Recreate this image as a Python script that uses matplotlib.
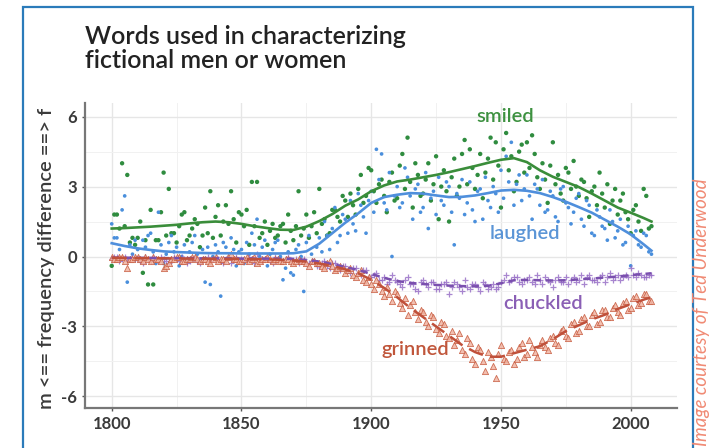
import numpy as np
import matplotlib
matplotlib.use("Agg")
from matplotlib import pyplot as plt
from matplotlib.patches import Rectangle
from matplotlib.ticker import MultipleLocator

# --- данные: по одному значению на год, 1800..2008 (строка = десятилетие) ---
years = np.arange(1800, 2009)

smiled = [
    -0.4, 1.8, 1.8, 1.2, 4.0, 1.3, 3.5, 0.6, 0.8, 0.5,
    0.8, 1.5, -0.7, 0.7, -1.2, 2.0, -1.2, 0.7, 0.7, 1.9,
    3.6, 0.9, 2.9, 1.0, 1.0, 0.6, 1.3, 1.8, 1.9, 0.7,
    0.9, 1.2, 1.6, 1.4, 0.4, 0.9, 2.1, 1.0, 2.8, 0.8,
    1.7, 2.2, 0.9, 1.5, 2.2, 1.4, 2.8, 1.6, 0.6, 1.9,
    1.8, 1.3, 2.0, 0.5, 3.2, 1.3, 3.2, 0.8, 1.0, 1.5,
    0.5, 1.1, 1.4, 0.8, 0.9, 1.3, 1.4, 0.6, 1.8, 1.1,
    0.7, 1.3, 2.8, 0.9, 1.2, 1.8, 0.8, 1.3, 1.9, 1.0,
    2.9, 1.4, 1.6, 0.9, 1.0, 2.0, 2.0, 1.7, 1.5, 2.6,
    2.4, 1.7, 2.7, 2.2, 1.8, 2.9, 3.5, 2.3, 2.6, 3.8,
    3.7, 2.8, 2.3, 3.1, 3.3, 2.6, 1.9, 3.2, 3.6, 2.4,
    2.5, 3.9, 4.4, 2.9, 5.1, 3.2, 2.1, 4.0, 3.5, 2.6,
    2.7, 3.3, 4.0, 2.4, 3.1, 4.3, 1.6, 3.0, 3.7, 2.8,
    1.5, 3.4, 4.2, 2.6, 3.0, 4.4, 5.0, 3.1, 4.6, 3.8,
    2.9, 3.5, 4.4, 2.5, 3.6, 4.2, 5.1, 3.3, 4.9, 3.9,
    2.1, 4.6, 5.3, 3.7, 4.3, 2.8, 3.2, 4.5, 4.8, 3.6,
    4.9, 3.8, 5.2, 4.4, 3.4, 2.9, 4.0, 3.3, 2.3, 3.9,
    4.9, 3.1, 3.5, 2.7, 2.4, 3.8, 3.6, 2.9, 4.1, 3.0,
    2.6, 3.3, 3.2, 2.5, 1.7, 2.8, 3.0, 2.2, 3.6, 2.7,
    2.1, 3.1, 1.4, 2.4, 2.9, 1.8, 2.4, 2.7, 1.9, 1.6,
    1.0, 2.0, 2.2, 1.5, 1.1, 2.9, 2.6, 1.2, 1.3,
]

laughed = [
    1.4, 0.8, 0.8, 0.3, 2.0, 2.6, -1.1, 0.5, 0.1, 0.7,
    0.3, -0.2, 0.7, 0.4, 0.9, 1.0, 0.2, -0.3, 1.9, 0.5,
    -0.3, 0.1, 0.6, 0.9, 0.2, 0.4, -0.4, 0.0, 0.5, -0.2,
    0.2, 0.6, 0.9, 0.1, -0.2, 0.3, -1.1, 0.4, -1.2, 0.0,
    0.5, 0.2, -1.7, 0.6, 0.4, -0.1, 0.8, 0.3, -0.4, 0.2,
    0.3, -0.3, 0.6, 0.1, 1.0, 0.5, 1.6, 0.0, 0.4, 0.7,
    -0.4, 0.1, 0.3, 0.6, 0.7, 0.0, -1.0, -0.5, 0.2, -0.7,
    -0.8, 0.3, 0.5, 0.0, -1.5, 0.6, 0.9, 0.1, -0.2, 0.4,
    0.8, 0.2, 1.5, 0.9, 0.3, 1.2, 2.1, 0.6, 0.9, 1.8,
    1.6, 1.0, 2.4, 1.4, 1.1, 2.7, 2.2, 1.7, 1.0, 2.4,
    2.8, 1.9, 4.6, 3.3, 4.4, 2.3, 2.0, 3.6, 0.0, 2.6,
    3.0, 2.1, 2.3, 3.8, 3.4, 2.6, 1.6, 2.9, 3.1, 1.9,
    2.1, 3.6, 1.2, 2.5, 2.8, 1.8, 3.4, 2.4, 2.2, 3.2,
    3.0, 1.9, 0.5, 2.7, 2.5, 3.3, 1.8, 2.3, 3.2, 2.0,
    1.5, 2.8, 2.9, 1.6, 3.4, 2.4, 2.1, 3.0, 2.7, 1.9,
    3.7, 2.5, 4.3, 3.2, 4.9, 2.2, 3.1, 3.5, 2.4, 2.9,
    3.5, 2.6, 1.6, 3.1, 2.9, 2.2, 3.3, 1.9, 2.0, 2.8,
    2.6, 1.7, 1.5, 2.9, 3.0, 2.3, 2.1, 1.4, 1.9, 2.5,
    2.7, 1.6, 1.3, 2.4, 2.2, 1.0, 0.9, 2.0, 1.7, 1.3,
    1.2, 0.7, 2.0, 1.5, 0.8, 1.1, 1.6, 0.5, 0.6, 1.3,
    -0.4, 0.9, 1.1, 0.5, 0.4, 1.0, 0.9, 0.2, 0.1,
]

chuckled = [
    -0.1, 0.0, 0.0, -0.2, -0.1, 0.0, -0.2, -0.1, 0.0, -0.1,
    -0.1, -0.2, -0.3, 0.0, -0.1, -0.2, 0.0, -0.1, -0.2, 0.0,
    -0.1, -0.2, -0.3, -0.1, 0.0, -0.1, -0.2, 0.0, -0.1, -0.3,
    -0.2, -0.1, 0.0, -0.2, -0.3, -0.1, -0.1, 0.0, -0.2, -0.1,
    0.0, -0.1, -0.2, -0.3, -0.1, 0.0, -0.3, -0.1, 0.0, -0.2,
    -0.1, -0.2, -0.2, 0.0, -0.1, -0.3, 0.1, -0.1, -0.2, -0.1,
    -0.1, -0.2, -0.3, 0.0, -0.1, -0.2, -0.2, -0.1, 0.0, -0.2,
    -0.2, -0.1, -0.3, -0.2, -0.1, -0.3, -0.3, -0.2, -0.2, -0.4,
    -0.4, -0.3, -0.2, -0.4, -0.5, -0.3, -0.3, -0.5, -0.6, -0.4,
    -0.4, -0.6, -0.7, -0.5, -0.5, -0.7, -0.8, -0.6, -0.6, -0.9,
    -0.9, -0.8, -0.7, -1.0, -1.0, -0.9, -1.2, -1.1, -0.8, -1.0,
    -1.1, -1.2, -1.3, -1.0, -0.9, -1.2, -1.2, -1.4, -1.5, -1.1,
    -1.0, -1.2, -1.3, -1.1, -1.1, -1.4, -1.4, -1.2, -1.2, -1.1,
    -1.6, -1.3, -1.1, -1.2, -1.3, -1.5, -1.0, -1.3, -1.4, -1.2,
    -1.2, -1.3, -1.5, -1.1, -1.2, -1.4, -1.3, -1.2, -1.4, -1.3,
    -1.1, -1.0, -0.8, -1.1, -1.0, -0.9, -0.9, -1.1, -1.2, -1.0,
    -1.0, -0.9, -1.1, -1.2, -0.8, -1.0, -1.2, -0.9, -1.0, -1.1,
    -1.3, -1.0, -0.9, -1.1, -1.1, -0.9, -1.2, -1.0, -0.9, -1.1,
    -1.0, -0.8, -1.2, -0.9, -0.8, -1.0, -1.0, -1.1, -0.9, -0.8,
    -1.1, -0.9, -0.7, -1.0, -0.9, -0.8, -1.0, -0.9, -0.8, -0.9,
    -0.5, -0.8, -0.9, -0.7, -0.8, -0.9, -0.9, -0.8, -0.8,
]

grinned = [
    0.0, -0.1, -0.1, 0.0, 0.0, -0.2, -0.5, -0.1, -0.1, 0.0,
    0.0, -0.1, -0.2, 0.0, -0.1, -0.2, 0.0, -0.1, -0.1, -0.2,
    -0.5, -0.4, -0.3, -0.1, -0.1, 0.0, 0.0, -0.2, -0.2, -0.1,
    -0.1, 0.0, 0.0, -0.1, -0.2, -0.1, -0.1, -0.2, -0.3, -0.1,
    0.0, -0.2, -0.1, -0.1, -0.2, 0.0, 0.1, -0.1, -0.1, -0.2,
    -0.2, -0.1, 0.0, -0.2, -0.1, 0.0, -0.3, -0.2, -0.1, -0.1,
    0.0, -0.1, -0.2, -0.1, -0.1, -0.2, -0.2, -0.1, -0.1, -0.2,
    -0.3, -0.2, -0.1, -0.2, -0.2, -0.3, -0.4, -0.2, -0.2, -0.3,
    -0.3, -0.4, -0.5, -0.3, -0.2, -0.4, -0.6, -0.5, -0.4, -0.5,
    -0.7, -0.6, -0.5, -0.8, -0.9, -0.7, -0.6, -1.0, -1.1, -0.9,
    -1.2, -1.4, -1.0, -1.2, -1.5, -1.7, -1.3, -1.6, -1.9, -1.5,
    -1.6, -2.0, -2.2, -1.8, -2.5, -2.1, -1.9, -2.4, -2.7, -2.3,
    -2.4, -2.8, -3.0, -2.5, -2.6, -3.1, -3.3, -2.8, -2.9, -3.4,
    -3.5, -3.2, -3.8, -3.6, -3.3, -4.0, -4.2, -3.5, -3.7, -4.4,
    -4.6, -3.9, -4.0, -4.5, -4.9, -4.1, -4.3, -4.7, -5.2, -4.2,
    -3.8, -4.4, -4.5, -4.1, -4.0, -4.6, -4.4, -3.9, -3.7, -4.3,
    -4.2, -3.6, -3.9, -4.1, -4.3, -3.8, -3.6, -3.9, -4.0, -3.5,
    -3.4, -3.7, -3.8, -3.2, -3.1, -3.4, -3.5, -2.9, -2.8, -3.3,
    -3.2, -2.7, -2.6, -3.0, -3.0, -2.5, -2.4, -2.9, -2.8, -2.3,
    -2.3, -2.6, -2.6, -2.2, -2.1, -2.4, -2.5, -2.0, -1.9, -2.3,
    -2.2, -1.8, -1.7, -2.1, -2.0, -1.6, -1.6, -1.9, -1.9,
]

# сглаженные линии (шаг 5 лет)
trend_years = [1800, 1805, 1810, 1815, 1820, 1825, 1830, 1835, 1840, 1845,
               1850, 1855, 1860, 1865, 1870, 1875, 1880, 1885, 1890, 1895,
               1900, 1905, 1910, 1915, 1920, 1925, 1930, 1935, 1940, 1945,
               1950, 1955, 1960, 1965, 1970, 1975, 1980, 1985, 1990, 1995,
               2000, 2005, 2008]

smiled_trend = [1.20, 1.22, 1.25, 1.28, 1.32, 1.36, 1.42, 1.47, 1.50, 1.47,
                1.40, 1.30, 1.22, 1.15, 1.14, 1.28, 1.52, 1.82, 2.18, 2.45,
                2.80, 3.05, 3.22, 3.30, 3.40, 3.50, 3.62, 3.75, 3.88, 4.02,
                4.15, 4.22, 4.05, 3.70, 3.42, 3.20, 2.98, 2.70, 2.40, 2.10,
                1.88, 1.65, 1.50]

laughed_trend = [0.57, 0.45, 0.35, 0.28, 0.22, 0.19, 0.17, 0.15, 0.14, 0.14,
                 0.13, 0.13, 0.13, 0.13, 0.14, 0.22, 0.55, 1.00, 1.45, 1.85,
                 2.30, 2.55, 2.65, 2.72, 2.70, 2.62, 2.55, 2.56, 2.62, 2.72,
                 2.83, 2.86, 2.82, 2.72, 2.55, 2.35, 2.12, 1.88, 1.58, 1.28,
                 0.95, 0.52, 0.25]

chuckled_trend = [-0.05, -0.05, -0.06, -0.06, -0.07, -0.07, -0.07, -0.08, -0.08, -0.08,
                  -0.09, -0.09, -0.09, -0.10, -0.10, -0.15, -0.22, -0.32, -0.45, -0.58,
                  -0.75, -0.92, -1.05, -1.13, -1.18, -1.22, -1.25, -1.27, -1.28, -1.26,
                  -1.15, -1.02, -1.00, -1.02, -1.03, -1.02, -0.98, -0.95, -0.90, -0.86,
                  -0.80, -0.75, -0.72]

grinned_trend = [-0.05, -0.06, -0.07, -0.07, -0.08, -0.08, -0.09, -0.09, -0.10, -0.10,
                 -0.11, -0.11, -0.12, -0.14, -0.17, -0.22, -0.30, -0.40, -0.55, -0.72,
                 -1.00, -1.35, -1.75, -2.20, -2.60, -3.00, -3.40, -3.80, -4.10, -4.30,
                 -4.30, -4.15, -4.00, -3.85, -3.55, -3.20, -2.95, -2.70, -2.50, -2.25,
                 -2.05, -1.85, -1.75]

x_ticks = [1800, 1850, 1900, 1950, 2000]
y_ticks = [-6, -3, 0, 3, 6]

# --- стиль ---
plt.rcParams['font.family'] = ['Lato', 'DejaVu Sans']

fig = plt.figure(figsize=(7.1, 4.48), dpi=100, facecolor='white')
ax = fig.add_axes([0.1197, 0.0893, 0.8333, 0.6815])
ax.set_facecolor('white')

# сетка
ax.xaxis.set_minor_locator(MultipleLocator(25))
ax.yaxis.set_minor_locator(MultipleLocator(1.5))
ax.grid(True, which='major', color='#e6e6e6', linewidth=1.0)
ax.grid(True, which='minor', color='#f1f1f1', linewidth=0.7)
ax.set_axisbelow(True)

# точки
ax.scatter(years, smiled, s=10, color='#2f8c3f', edgecolors='none', zorder=2)
ax.scatter(years, laughed, s=7, color='#4a8fdc', edgecolors='none', zorder=2)
ax.scatter(years, chuckled, s=22, marker='+', color='#9368c4', linewidths=0.9,
           alpha=0.8, zorder=3)
ax.scatter(years, grinned, s=20, marker='^', facecolor='#f0b4a2', edgecolors='#c75a3e',
           linewidths=0.6, alpha=0.85, zorder=3)

# сглаженные линии
ax.plot(trend_years, smiled_trend, color='#3a8d3a', linewidth=1.9, zorder=4)
ax.plot(trend_years, laughed_trend, color='#4f8fdc', linewidth=1.9, zorder=4)
ax.plot(trend_years, chuckled_trend, color='#7a4fae', linewidth=1.8,
        dashes=(3, 2), zorder=4)
ax.plot(trend_years, grinned_trend, color='#c0503a', linewidth=1.8,
        dashes=(6, 3), zorder=4)

# подписи серий
lbl = dict(fontsize=14.5, fontweight='semibold', ha='center', va='center', zorder=5)
ax.text(1951.6, 6.0, 'smiled', color='#3d9140', **lbl)
ax.text(1959.3, 1.0, 'laughed', color='#5b95d6', **lbl)
ax.text(1966.2, -2.0, 'chuckled', color='#8a5fb5', **lbl)
ax.text(1916.9, -4.0, 'grinned', color='#c0563b', **lbl)

# оси
ax.set_xlim(1789.7, 2017.7)
ax.set_ylim(-6.5, 6.6)
ax.set_xticks(x_ticks)
ax.set_yticks(y_ticks)
ax.set_xticklabels([str(v) for v in x_ticks])
ax.set_yticklabels([str(v) for v in y_ticks])
ax.tick_params(axis='both', which='major', length=2.5, width=1, color='#555555',
               labelsize=12, labelcolor='#3a3a3a', pad=3)
ax.tick_params(axis='both', which='minor', length=0)
for lab in ax.get_xticklabels() + ax.get_yticklabels():
    lab.set_fontweight('bold')

for side in ['top', 'right']:
    ax.spines[side].set_visible(False)
for side in ['left', 'bottom']:
    ax.spines[side].set_color('#777777')
    ax.spines[side].set_linewidth(1.6)

ax.set_ylabel('m <== frequency difference ==> f', fontsize=14.5, fontweight='semibold',
              color='#3a3a3a')
ax.yaxis.set_label_coords(-0.05, 0.49)

# заголовок
fig.text(0.1197, 0.945, 'Words used in characterizing\nfictional men or women',
         fontsize=18, fontweight='semibold', color='#222222', ha='left', va='top',
         linespacing=1.08)

# рамка
frame = Rectangle((23 / 710, -0.05), (693 - 23) / 710, 1.05 - 7 / 448,
                  transform=fig.transFigure, fill=False, edgecolor='#2b7bba',
                  linewidth=1.6, clip_on=False)
fig.patches.append(frame)

# подпись справа
fig.text(702 / 710, 0.005, 'Image courtesy of Ted Underwood', rotation=90,
         fontsize=13.5, style='italic', color='#f08a74',
         ha='center', va='bottom')

fig.savefig('out.png', dpi=100, facecolor='white')
